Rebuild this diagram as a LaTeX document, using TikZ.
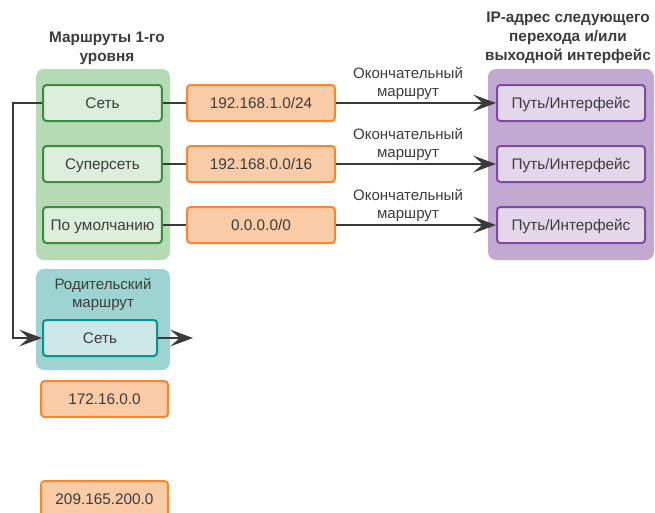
\documentclass[tikz,border=0pt]{standalone}
\usepackage{fontspec}
\setmainfont{Liberation Sans}
\usetikzlibrary{arrows.meta}
\definecolor{txtgray}{HTML}{3C3C3C}
\definecolor{linegray}{HTML}{3A3A3A}
\definecolor{greenbg}{HTML}{B5DBB5}
\definecolor{greenfill}{HTML}{DCEEDC}
\definecolor{greenline}{HTML}{3D8C3D}
\definecolor{orangefill}{HTML}{F9CBA6}
\definecolor{orangeline}{HTML}{F5882E}
\definecolor{purplebg}{HTML}{C2A9D2}
\definecolor{purplefill}{HTML}{E4D7EC}
\definecolor{purpleline}{HTML}{7D4AA0}
\definecolor{tealbg}{HTML}{9DD4D2}
\definecolor{tealfill}{HTML}{CDE8E8}
\definecolor{tealline}{HTML}{0A9191}
\begin{document}
\begin{tikzpicture}[x=0.75pt,y=-0.75pt,line width=1.5pt,
  every node/.style={text=txtgray,font=\fontsize{11.5}{14}\selectfont},
  routebox/.style={draw,rounded corners=2.5pt,minimum height=27pt,inner sep=0pt,
    text height=8.2pt,text depth=0pt},
  netbox/.style={routebox,draw=greenline,fill=greenfill,minimum width=89pt},
  addrbox/.style={routebox,draw=orangeline,fill=orangefill,minimum width=111pt},
  portbox/.style={routebox,draw=purpleline,fill=purplefill,minimum width=111pt},
  parentbox/.style={routebox,draw=tealline,fill=tealfill,minimum width=85.5pt},
  lowbox/.style={routebox,draw=orangeline,fill=orangefill,minimum width=95pt},
  heading/.style={font=\bfseries\fontsize{11.5}{14.25}\selectfont,align=center},
  routelabel/.style={align=center,font=\fontsize{11.3}{13.5}\selectfont},
  link/.style={draw=linegray,line width=1.75pt},
  linkarrow/.style={link,-{Stealth[length=17pt,width=12.5pt,inset=7pt]}}]
\path[use as bounding box] (0,0) rectangle (655,512);
\clip (0,0) rectangle (655,512);
% group backgrounds
\fill[greenbg,rounded corners=6pt] (36,69) rectangle (170,260);
\fill[purplebg,rounded corners=6pt] (488,69) rectangle (654,260);
\fill[tealbg,rounded corners=6pt] (36,269) rectangle (170,370);
% headings
\node[heading] (lvltitle) at (107,48) {Маршруты 1-го\\уровня};
\node[heading] (hoptitle) at (568,37.5) {IP-адрес следующего\\перехода и/или\\выходной интерфейс};
\node[align=center,font=\fontsize{11.3}{13.5}\selectfont] (parenttitle) at (103,294) {Родительский\\маршрут};
% level 1 routes
\node[netbox] (net) at (102.5,103) {Сеть};
\node[netbox] (supernet) at (102.5,164) {Суперсеть};
\node[netbox] (default) at (102.5,225) {По умолчанию};
\node[addrbox] (addrA) at (261,103) {192.168.1.0/24};
\node[addrbox] (addrB) at (261,164) {192.168.0.0/16};
\node[addrbox] (addrC) at (261,225) {0.0.0.0/0};
\node[portbox] (portA) at (571,103) {Путь/Интерфейс};
\node[portbox] (portB) at (571,164) {Путь/Интерфейс};
\node[portbox] (portC) at (571,225) {Путь/Интерфейс};
\node[routelabel] (finalA) at (408,83) {Окончательный\\маршрут};
\node[routelabel] (finalB) at (408,144) {Окончательный\\маршрут};
\node[routelabel] (finalC) at (408,205) {Окончательный\\маршрут};
\draw[link] (net) -- (addrA);
\draw[link] (supernet) -- (addrB);
\draw[link] (default) -- (addrC);
\draw[linkarrow] (addrA) -- (portA);
\draw[linkarrow] (addrB) -- (portB);
\draw[linkarrow] (addrC) -- (portC);
% parent route
\node[parentbox] (parentnet) at (100,338) {Сеть};
\coordinate (parentout) at (193,338);
\coordinate (leftrail) at (13,103);
\draw[linkarrow] (net.west) -- (leftrail) |- (parentnet.west);
\draw[linkarrow] (parentnet) -- (parentout);
% child routes
\node[lowbox] (childA) at (104.5,399) {172.16.0.0};
\node[lowbox] (childB) at (104.5,499) {209.165.200.0};
\end{tikzpicture}
\end{document}
